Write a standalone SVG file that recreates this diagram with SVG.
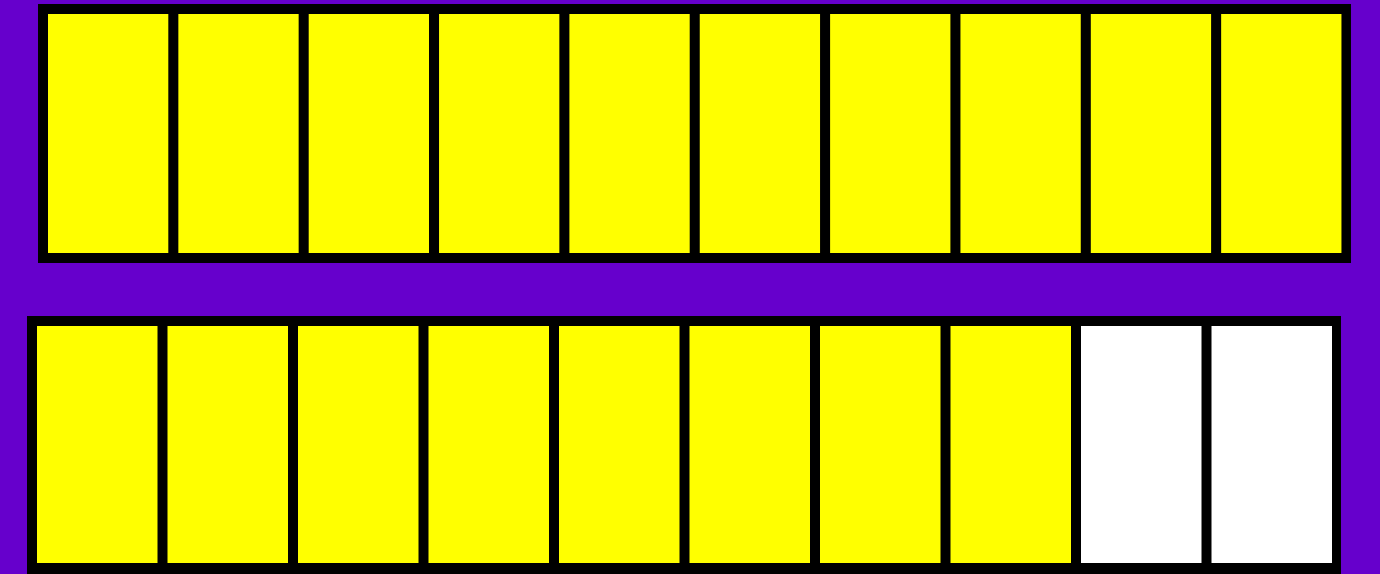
<svg xmlns="http://www.w3.org/2000/svg" width="1380" height="574" viewBox="0 0 1380 574">
<style>
.frame{fill:#000000}
.y{fill:#FFFF00}
.w{fill:#FFFFFF}
</style>
<rect x="0" y="0" width="1380" height="574" fill="#6600CC"/>
<g id="bar-top">
<rect class="frame" x="38" y="4" width="1313" height="259"/>
<rect class="y" x="48" y="14" width="120.3" height="239"/>
<rect class="y" x="178.35" y="14" width="120.3" height="239"/>
<rect class="y" x="308.7" y="14" width="120.3" height="239"/>
<rect class="y" x="439.05" y="14" width="120.3" height="239"/>
<rect class="y" x="569.4" y="14" width="120.3" height="239"/>
<rect class="y" x="699.75" y="14" width="120.3" height="239"/>
<rect class="y" x="830.1" y="14" width="120.3" height="239"/>
<rect class="y" x="960.45" y="14" width="120.3" height="239"/>
<rect class="y" x="1090.8" y="14" width="120.3" height="239"/>
<rect class="y" x="1221.15" y="14" width="120.3" height="239"/>
</g>
<g id="bar-bottom">
<rect class="frame" x="27" y="316" width="1314" height="270"/>
<rect class="y" x="37" y="326" width="120.5" height="237"/>
<rect class="y" x="167.5" y="326" width="120.5" height="237"/>
<rect class="y" x="298" y="326" width="120.5" height="237"/>
<rect class="y" x="428.5" y="326" width="120.5" height="237"/>
<rect class="y" x="559" y="326" width="120.5" height="237"/>
<rect class="y" x="689.5" y="326" width="120.5" height="237"/>
<rect class="y" x="820" y="326" width="120.5" height="237"/>
<rect class="y" x="950.5" y="326" width="120.5" height="237"/>
<rect class="w" x="1081" y="326" width="120.5" height="237"/>
<rect class="w" x="1211.5" y="326" width="120.5" height="237"/>
</g>
<g id="connectors"/>
</svg>
